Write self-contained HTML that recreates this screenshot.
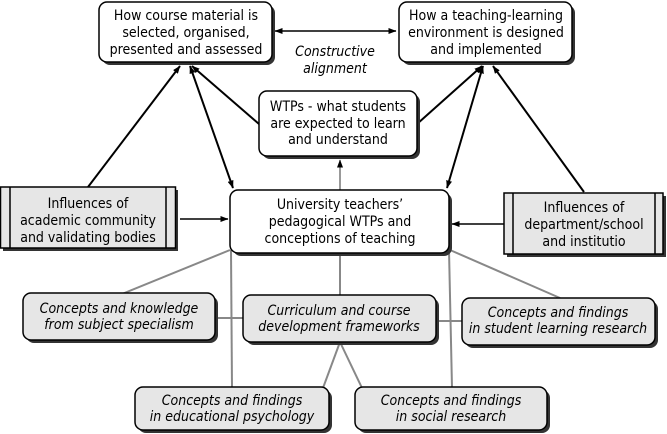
<!DOCTYPE html>
<html><head><meta charset="utf-8"><style>
html,body{margin:0;padding:0;background:#fff}
svg{display:block}
text{font-family:"DejaVu Sans Condensed","Liberation Sans",sans-serif;font-size:14px;fill:#000}
.i{font-style:italic}
</style></head><body>
<svg width="667" height="434" viewBox="0 0 667 434" xmlns="http://www.w3.org/2000/svg">
<defs>
<marker id="a" markerWidth="8" markerHeight="6" refX="7.5" refY="3" orient="auto" markerUnits="userSpaceOnUse"><path d="M0,0 L8,3 L0,6 z" fill="#000"/></marker>
<marker id="b" markerWidth="8" markerHeight="6" refX="0.5" refY="3" orient="auto" markerUnits="userSpaceOnUse"><path d="M8,0 L0,3 L8,6 z" fill="#000"/></marker>
</defs>
<g stroke="#888" stroke-width="2" fill="none">
<line x1="230" y1="250" x2="122" y2="294"/>
<line x1="231" y1="250" x2="232" y2="388"/>
<line x1="340" y1="253" x2="340" y2="295"/>
<line x1="449" y1="250" x2="452" y2="388"/>
<line x1="450" y1="250" x2="560" y2="298"/>
<line x1="215" y1="318" x2="243" y2="318"/>
<line x1="436" y1="321" x2="462" y2="321"/>
<line x1="340" y1="342" x2="323" y2="388"/>
<line x1="340" y1="342" x2="362" y2="388"/>
</g>
<line x1="340" y1="190" x2="340" y2="160" stroke="#555" stroke-width="1.2" marker-end="url(#a)"/>
<g stroke="#000" stroke-width="2" fill="none">
<line x1="275" y1="31" x2="396" y2="31" marker-start="url(#b)" marker-end="url(#a)" stroke-width="1.5"/>
<line x1="88" y1="187" x2="180" y2="66" marker-end="url(#a)"/>
<line x1="233" y1="188" x2="190" y2="66" marker-start="url(#b)" marker-end="url(#a)"/>
<line x1="259" y1="124" x2="192" y2="66" marker-end="url(#a)"/>
<line x1="417" y1="124" x2="482" y2="66" marker-end="url(#a)"/>
<line x1="447" y1="188" x2="483" y2="66" marker-start="url(#b)" marker-end="url(#a)"/>
<line x1="584" y1="192" x2="493" y2="66" marker-end="url(#a)"/>
<line x1="180" y1="219" x2="228" y2="219" marker-end="url(#a)" stroke-width="1.5"/>
<line x1="504" y1="224" x2="452" y2="224" marker-end="url(#a)" stroke-width="1.5"/>
</g>
<g stroke="#000" stroke-width="1.5">
<rect x="102" y="5" width="173" height="60" rx="8" fill="#333" stroke="none"/>
<rect x="99" y="2" width="173" height="60" rx="8" fill="#fff"/>
<rect x="402" y="5" width="173" height="60" rx="8" fill="#333" stroke="none"/>
<rect x="399" y="2" width="173" height="60" rx="8" fill="#fff"/>
<rect x="262" y="94" width="158" height="65" rx="8" fill="#333" stroke="none"/>
<rect x="259" y="91" width="158" height="65" rx="8" fill="#fff"/>
<rect x="233" y="193" width="219" height="63" rx="8" fill="#333" stroke="none"/>
<rect x="230" y="190" width="219" height="63" rx="8" fill="#fff"/>
<rect x="3" y="190" width="175" height="61" fill="#333" stroke="none"/>
<rect x="0.5" y="187" width="175" height="61" fill="#e6e6e6"/>
<line x1="10" y1="187" x2="10" y2="248"/><line x1="166" y1="187" x2="166" y2="248"/>
<rect x="507" y="196" width="159" height="61" fill="#333" stroke="none"/>
<rect x="504" y="193" width="159" height="61" fill="#e6e6e6"/>
<line x1="513" y1="193" x2="513" y2="254"/><line x1="655" y1="193" x2="655" y2="254"/>
<rect x="26" y="296" width="192" height="47" rx="8" fill="#333" stroke="none"/>
<rect x="23" y="293" width="192" height="47" rx="8" fill="#e6e6e6"/>
<rect x="246" y="298" width="193" height="47" rx="8" fill="#333" stroke="none"/>
<rect x="243" y="295" width="193" height="47" rx="8" fill="#e6e6e6"/>
<rect x="465" y="301" width="193" height="47" rx="8" fill="#333" stroke="none"/>
<rect x="462" y="298" width="193" height="47" rx="8" fill="#e6e6e6"/>
<rect x="138" y="390" width="194" height="43" rx="8" fill="#333" stroke="none"/>
<rect x="135" y="387" width="194" height="43" rx="8" fill="#e6e6e6"/>
<rect x="358" y="390" width="192" height="43" rx="8" fill="#333" stroke="none"/>
<rect x="355" y="387" width="192" height="43" rx="8" fill="#e6e6e6"/>
</g>
<g text-anchor="middle">
<text x="186" y="20">How course material is</text>
<text x="186" y="37">selected, organised,</text>
<text x="186" y="54">presented and assessed</text>
<text x="486" y="20">How a teaching-learning</text>
<text x="486" y="37">environment is designed</text>
<text x="486" y="54">and implemented</text>
<text class="i" x="335" y="56">Constructive</text>
<text class="i" x="335" y="73">alignment</text>
<text x="338" y="111">WTPs - what students</text>
<text x="338" y="128">are expected to learn</text>
<text x="338" y="144">and understand</text>
<text x="340" y="209">University teachers’</text>
<text x="340" y="226">pedagogical WTPs and</text>
<text x="340" y="243">conceptions of teaching</text>
<text x="88" y="208">Influences of</text>
<text x="88" y="225">academic community</text>
<text x="88" y="242">and validating bodies</text>
<text x="584" y="212">Influences of</text>
<text x="584" y="229">department/school</text>
<text x="584" y="246">and institutio</text>
<text class="i" x="119" y="313">Concepts and knowledge</text>
<text class="i" x="119" y="329">from subject specialism</text>
<text class="i" x="339" y="315">Curriculum and course</text>
<text class="i" x="339" y="331">development frameworks</text>
<text class="i" x="558" y="317">Concepts and findings</text>
<text class="i" x="558" y="333">in student learning research</text>
<text class="i" x="232" y="405">Concepts and findings</text>
<text class="i" x="232" y="421">in educational psychology</text>
<text class="i" x="451" y="405">Concepts and findings</text>
<text class="i" x="451" y="421">in social research</text>
</g>
</svg>
</body></html>
